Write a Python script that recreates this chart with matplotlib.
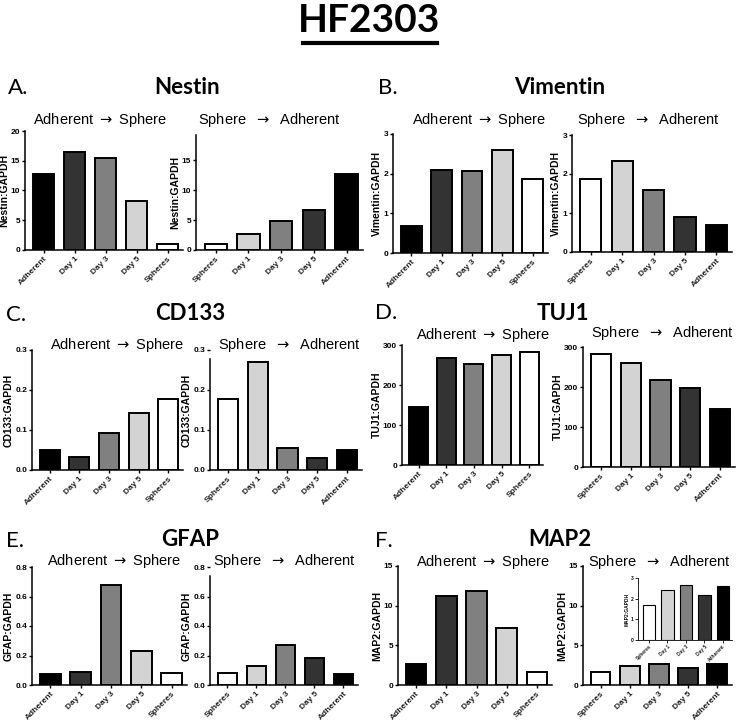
import matplotlib
matplotlib.use('Agg')
import matplotlib.pyplot as plt
from matplotlib.lines import Line2D

plt.rcParams['font.family'] = ['Liberation Sans', 'DejaVu Sans']
plt.rcParams['mathtext.fontset'] = 'dejavusans'

# categories
cats_as = ['Adherent', 'Day 1', 'Day 3', 'Day 5', 'Spheres']
cats_sa = ['Spheres', 'Day 1', 'Day 3', 'Day 5', 'Adherent']

# values (gene:GAPDH)
nestin_as = [12.7, 16.5, 15.5, 8.2, 1.0]
nestin_sa = [1.0, 2.7, 4.8, 6.6, 12.7]
vimentin_as = [0.68, 2.1, 2.07, 2.6, 1.87]
vimentin_sa = [1.87, 2.33, 1.58, 0.9, 0.68]
cd133_as = [0.05, 0.033, 0.092, 0.142, 0.178]
cd133_sa = [0.178, 0.27, 0.056, 0.03, 0.05]
tuj1_as = [145, 267, 252, 274, 283]
tuj1_sa = [283, 261, 218, 198, 145]
gfap_as = [0.075, 0.09, 0.68, 0.23, 0.083]
gfap_sa = [0.083, 0.13, 0.27, 0.185, 0.075]
map2_as = [2.6, 11.2, 11.9, 7.2, 1.7]
map2_sa = [1.7, 2.4, 2.65, 2.2, 2.6]

col_as = ['#000000', '#333333', '#808080', '#d3d3d3', '#ffffff']
col_sa = ['#ffffff', '#d3d3d3', '#808080', '#333333', '#000000']

W, H = 738, 724
fig = plt.figure(figsize=(W / 100, H / 100), dpi=100)


def axes_px(x0, y0, x1, y1):
    return fig.add_axes([x0 / W, 1 - y1 / H, (x1 - x0) / W, (y1 - y0) / H])


def bars(ax, cats, vals, cols, ylim, ticks, ylabel, fmt, small=False):
    ax.bar(range(len(vals)), vals, width=0.68, color=cols, edgecolor='black',
           linewidth=0.8 if small else 1.4)
    ax.set_xlim(-0.6, len(vals) - 0.5)
    ax.set_ylim(*ylim)
    ax.set_yticks(ticks)
    ax.set_yticklabels([fmt.format(t) for t in ticks])
    ax.set_xticks(range(len(vals)))
    fs = 3.5 if small else 6
    ax.set_xticklabels(cats, rotation=45, ha='right', rotation_mode='anchor',
                       fontsize=fs, fontweight='bold', color='#222222')
    for lab in ax.get_yticklabels():
        lab.set_fontsize(fs)
        lab.set_fontweight('bold')
    ax.set_ylabel(ylabel, fontsize=3.5 if small else 7.5, fontweight='bold',
                  labelpad=1)
    for s in ['top', 'right']:
        ax.spines[s].set_visible(False)
    for s in ['left', 'bottom']:
        ax.spines[s].set_linewidth(0.6 if small else 1.1)
    ax.tick_params(length=2 if small else 2.5, width=0.6 if small else 1.0, pad=1)


panels = [
    # (left rect, right rect, data..., ylims, ticks, label, fmt)
    ((25, 131, 183, 250), (196, 135, 363, 250), nestin_as, nestin_sa,
     (0, 20), [0, 5, 10, 15, 20], (0, 19.2), [0, 5, 10, 15], 'Nestin:GAPDH', '{:g}'),
    ((393, 134, 548, 253), (572, 135, 732, 252), vimentin_as, vimentin_sa,
     (0, 3), [0, 1, 2, 3], (0, 3), [0, 1, 2, 3], 'Vimentin:GAPDH', '{:g}'),
    ((32, 350, 183, 470), (210, 350, 362, 470), cd133_as, cd133_sa,
     (0, 0.3), [0, 0.1, 0.2, 0.3], (0, 0.3), [0, 0.1, 0.2, 0.3], 'CD133:GAPDH', '{:.1f}'),
    ((402, 345, 543, 465), (583, 347, 735, 467), tuj1_as, tuj1_sa,
     (0, 300), [0, 100, 200, 300], (0, 300), [0, 100, 200, 300], 'TUJ1:GAPDH', '{:g}'),
    ((32, 567, 187, 685), (210, 567, 358, 685), gfap_as, gfap_sa,
     (0, 0.8), [0, 0.2, 0.4, 0.6, 0.8], (0, 0.8), [0, 0.2, 0.4, 0.6, 0.8], 'GFAP:GAPDH', '{:.1f}'),
    ((398, 566, 552, 685), (583, 566, 732, 685), map2_as, map2_sa,
     (0, 15), [0, 5, 10, 15], (0, 15), [0, 5, 10, 15], 'MAP2:GAPDH', '{:g}'),
]

for rl, rr, va, vs, yl1, t1, yl2, t2, lab, fmt in panels:
    a1 = axes_px(*rl)
    bars(a1, cats_as, va, col_as, yl1, t1, lab, fmt)
    a2 = axes_px(*rr)
    bars(a2, cats_sa, vs, col_sa, yl2, t2, lab, fmt)
    if lab == 'CD133:GAPDH':
        a2.spines['left'].set_bounds(0, 0.277)
    if lab == 'GFAP:GAPDH':
        a2.spines['left'].set_bounds(0, 0.74)

# inset in MAP2 sphere -> adherent
ins = axes_px(638, 578, 732, 640)
bars(ins, cats_sa, map2_sa, col_sa, (0, 3), [0, 1, 2, 3], 'MAP2:GAPDH', '{:g}', small=True)


def ftext(x, y, s, **kw):
    fig.text(x / W, 1 - y / H, s, ha=kw.pop('ha', 'center'), va='center', **kw)


# sub titles
AS = r'Adherent $\rightarrow$ Sphere'
SA = r'Sphere  $\rightarrow$  Adherent'
sub = [
    (100, 120, AS), (269, 120, SA),
    (479, 120, AS), (648, 120, SA),
    (117, 345, AS), (289, 345, SA),
    (483, 335, AS), (662, 333, SA),
    (114, 561, AS), (284, 561, SA),
    (483, 562, AS), (659, 562, SA),
]
for x, y, s in sub:
    ftext(x, y, s, fontsize=10.5)

# gene titles and panel letters
genes = [(187, 87, 'Nestin'), (560, 87, 'Vimentin'), (190, 314, 'CD133'),
         (563, 313, 'TUJ1'), (190, 540, 'GFAP'), (560, 540, 'MAP2')]
for x, y, s in genes:
    ftext(x, y, s, fontsize=16, fontweight='bold', family='Lato')

letters = [(8, 88, 'A.'), (378, 88, 'B.'), (6, 315, 'C.'), (375, 313, 'D.'),
           (6, 541, 'E.'), (375, 541, 'F.')]
for x, y, s in letters:
    ftext(x, y, s, fontsize=16, ha='left', family='Lato')

ftext(369, 21, 'HF2303', fontsize=28, fontweight='bold', family='Lato')
fig.add_artist(Line2D([303 / W, 437 / W], [1 - 43 / H, 1 - 43 / H],
                      color='black', linewidth=3))

fig.savefig('out.png', dpi=100)
